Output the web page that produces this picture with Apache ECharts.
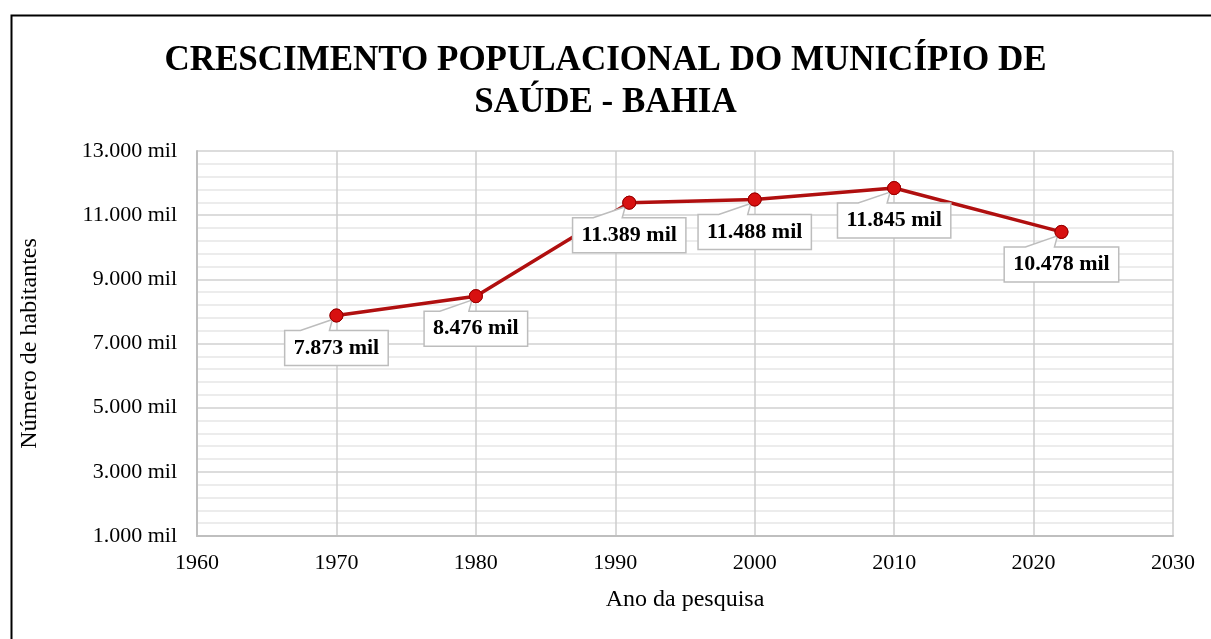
<!DOCTYPE html>
<html>
<head>
<meta charset="utf-8">
<script src="https://cdn.jsdelivr.net/npm/echarts@6/dist/echarts.min.js"></script>
<style>html,body{margin:0;padding:0;background:#fff}#c{width:1211px;height:639px}</style>
</head>
<body>
<div id="c"></div>
<script>
const titleLines = ['CRESCIMENTO POPULACIONAL DO MUNICÍPIO DE', 'SAÚDE - BAHIA'];
const years = [1970, 1980, 1991, 2000, 2010, 2022];
const population = [7873, 8476, 11389, 11488, 11845, 10478];
const yTicks = [1000, 3000, 5000, 7000, 9000, 11000, 13000];
const xTicks = [1960, 1970, 1980, 1990, 2000, 2010, 2020, 2030];
const yAxisName = 'Número de habitantes';
const xAxisName = 'Ano da pesquisa';

const SERIF = '"Liberation Serif", "Times New Roman", serif';
function fmt(v) {
  const s = String(Math.round(v));
  return s.replace(/\B(?=(\d{3})+(?!\d))/g, '.') + ' mil';
}
const measureCtx = document.createElement('canvas').getContext('2d');
const LABEL_FONT = 'bold 22px "Liberation Serif"';
measureCtx.font = LABEL_FONT;

const points = years.map((y, i) => [y, population[i]]);
const chart = echarts.init(document.getElementById('c'), null, {renderer: 'canvas'});
chart.setOption({
  backgroundColor: '#fff',
  animation: false,
  title: {
    text: titleLines.join('\n'),
    left: 'center',
    top: 35,
    textStyle: {fontFamily: SERIF, fontWeight: 'bold', fontSize: 35, color: '#000', lineHeight: 42}
  },
  graphic: [{
    type: 'rect', left: 9, top: 13,
    shape: {width: 1300, height: 700},
    style: {fill: 'none', stroke: '#000', lineWidth: 2}
  }],
  grid: {left: 197, right: 38, top: 151, bottom: 103},
  xAxis: {
    type: 'value', min: xTicks[0], max: xTicks[xTicks.length - 1], interval: 10,
    name: xAxisName, nameLocation: 'middle', nameGap: 52,
    nameTextStyle: {fontFamily: SERIF, fontSize: 24, color: '#000'},
    axisLine: {show: true, lineStyle: {color: '#bfbfbf', width: 2}},
    axisTick: {show: false},
    axisLabel: {fontFamily: SERIF, fontSize: 22, color: '#000', margin: 16, formatter: v => String(v)},
    splitLine: {show: true, lineStyle: {color: '#cccccc', width: 1.5}}
  },
  yAxis: {
    type: 'value', min: yTicks[0], max: yTicks[yTicks.length - 1], interval: 2000,
    name: yAxisName, nameLocation: 'middle', nameGap: 155,
    nameTextStyle: {fontFamily: SERIF, fontSize: 24, color: '#000'},
    axisLine: {show: true, lineStyle: {color: '#bfbfbf', width: 2}},
    axisTick: {show: false},
    axisLabel: {fontFamily: SERIF, fontSize: 22, color: '#000', margin: 20, formatter: v => fmt(v)},
    splitLine: {show: true, lineStyle: {color: '#d0d0d0', width: 1.5}},
    minorTick: {show: false, splitNumber: 5},
    minorSplitLine: {show: true, lineStyle: {color: '#e6e6e6', width: 1.5}}
  },
  series: [{
    type: 'line',
    data: points,
    z: 2,
    lineStyle: {color: '#B00F0F', width: 3.5},
    symbol: 'circle', symbolSize: 13,
    itemStyle: {color: '#D81010', borderColor: '#9A0000', borderWidth: 1},
    label: {show: false}
  }, {
    type: 'custom',
    data: points,
    z: 3,
    renderItem: function (params, api) {
      const p = api.coord([api.value(0), api.value(1)]);
      const text = fmt(api.value(1));
      const tw = measureCtx.measureText(text).width;
      const hw = tw / 2 + 9;
      const T = p[1] + 15, B = T + 35;
      const L = p[0] - hw, R = p[0] + hw;
      const x1 = p[0] - 36, x2 = p[0] - 7;
      return {
        type: 'group',
        children: [{
          type: 'polygon',
          shape: {points: [[L, T], [x1, T], [p[0] - 4, p[1] + 4], [x2, T], [R, T], [R, B], [L, B]]},
          style: {fill: '#fff', stroke: '#bdbdbd', lineWidth: 1.5}
        }, {
          type: 'text',
          x: p[0], y: (T + B) / 2,
          style: {text: text, font: LABEL_FONT, fill: '#000', align: 'center', verticalAlign: 'middle'}
        }]
      };
    }
  }, {
    type: 'line',
    data: points,
    z: 4,
    lineStyle: {opacity: 0},
    symbol: 'circle', symbolSize: 13,
    itemStyle: {color: '#D81010', borderColor: '#9A0000', borderWidth: 1},
    silent: true
  }]
});
</script>
</body>
</html>
